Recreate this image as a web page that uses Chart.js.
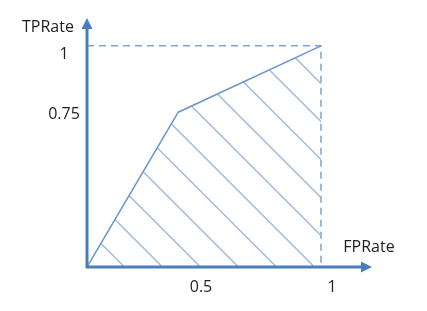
<!DOCTYPE html>
<html>
<head>
<meta charset="utf-8">
<script src="https://cdn.jsdelivr.net/npm/chart.js@4"></script>
<style>
  body { margin: 0; background: #fff; }
  canvas { display: block; }
</style>
</head>
<body>
<canvas id="roc" width="427" height="311"></canvas>
<script>
// ROC curve points (FPRate, TPRate)
const fpr = [0, 0.39, 1];
const tpr = [0, 0.70, 1];

// dashed guide box up to (1, 1)
const boxX = [0, 1, 1];
const boxY = [1, 1, 0];

// tick labels and where they sit on each axis
const xTickPos = [0.5, 1];
const xTickLabels = ['0.5', '1'];
const yTickPos = [0.70, 1];
const yTickLabels = ['0.75', '1'];

const xTitle = 'FPRate';
const yTitle = 'TPRate';

const axisColor = '#4a7ebb';
const textColor = '#1f1f1f';
const font = '16px "Open Sans", sans-serif';

// diagonal hatch used to fill the area under the curve
function hatchPattern() {
  const size = 38;
  const c = document.createElement('canvas');
  c.width = size;
  c.height = size;
  const g = c.getContext('2d');
  g.strokeStyle = '#9db8de';
  g.lineWidth = 1.4;
  [28.6, 28.6 - size, 28.6 + size].forEach(off => {
    g.beginPath();
    g.moveTo(-size, -size + off);
    g.lineTo(2 * size, 2 * size + off);
    g.stroke();
  });
  return g.createPattern(c, 'repeat');
}

const toPoints = (xs, ys) => xs.map((x, i) => ({ x: x, y: ys[i] }));

// axes with arrow heads plus the text labels
const axesPlugin = {
  id: 'axes',
  afterDatasetsDraw(chart) {
    const ctx = chart.ctx;
    const xs = chart.scales.x, ys = chart.scales.y;
    const x0 = xs.getPixelForValue(0), y0 = ys.getPixelForValue(0);
    const xEnd = xs.getPixelForValue(xs.max), yEnd = ys.getPixelForValue(ys.max);

    ctx.save();
    ctx.strokeStyle = axisColor;
    ctx.fillStyle = axisColor;
    ctx.lineWidth = 3;
    ctx.beginPath();
    ctx.moveTo(x0 - 1, y0);
    ctx.lineTo(xEnd - 8, y0);
    ctx.moveTo(x0, y0 + 1);
    ctx.lineTo(x0, yEnd + 8);
    ctx.stroke();
    // arrow heads
    ctx.beginPath();
    ctx.moveTo(xEnd, y0);
    ctx.lineTo(xEnd - 11, y0 - 5.5);
    ctx.lineTo(xEnd - 11, y0 + 5.5);
    ctx.closePath();
    ctx.fill();
    ctx.beginPath();
    ctx.moveTo(x0, yEnd);
    ctx.lineTo(x0 - 5.5, yEnd + 11);
    ctx.lineTo(x0 + 5.5, yEnd + 11);
    ctx.closePath();
    ctx.fill();

    ctx.fillStyle = textColor;
    ctx.font = font;
    ctx.textAlign = 'center';
    ctx.textBaseline = 'middle';
    xTickPos.forEach((v, i) => {
      const off = v === 1 ? 11 : -3;
      ctx.fillText(xTickLabels[i], xs.getPixelForValue(v) + off, y0 + 20);
    });
    yTickPos.forEach((v, i) => {
      const off = v === 1 ? 8.5 : 2.5;
      ctx.fillText(yTickLabels[i], x0 - 23, ys.getPixelForValue(v) + off);
    });
    ctx.fillText(xTitle, xs.getPixelForValue(1) + 48, y0 - 20);
    ctx.fillText(yTitle, x0 - 39, yEnd + 9);
    ctx.restore();
  }
};

const ctx = document.getElementById('roc').getContext('2d');

const chart = new Chart(ctx, {
  type: 'scatter',
  data: {
    datasets: [
      {
        label: 'ROC',
        data: toPoints(fpr, tpr),
        showLine: true,
        borderColor: '#6b95d0',
        borderWidth: 1.5,
        pointRadius: 0,
        fill: 'origin',
        backgroundColor: hatchPattern()
      },
      {
        label: 'box',
        data: toPoints(boxX, boxY),
        showLine: true,
        borderColor: '#7ea3d6',
        borderWidth: 1.5,
        borderDash: [7, 5],
        pointRadius: 0,
        fill: false
      }
    ]
  },
  options: {
    responsive: false,
    animation: false,
    layout: {
      padding: { left: 87, right: 55, top: 18, bottom: 44 }
    },
    plugins: {
      legend: { display: false },
      tooltip: { enabled: false }
    },
    scales: {
      x: { type: 'linear', display: false, min: 0, max: 1.218 },
      y: { type: 'linear', display: false, min: 0, max: 1.126 }
    }
  },
  plugins: [axesPlugin]
});
</script>
</body>
</html>
